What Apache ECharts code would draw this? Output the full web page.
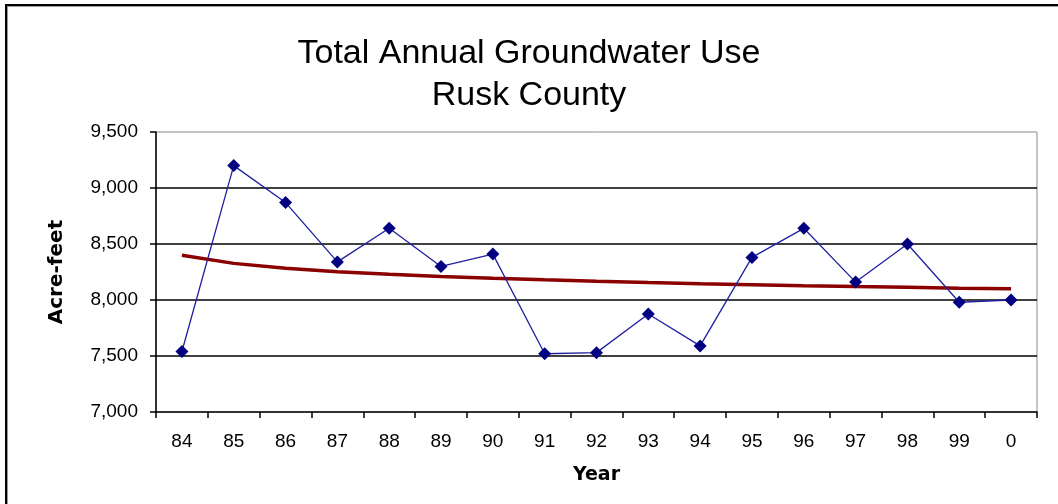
<!DOCTYPE html>
<html>
<head>
<meta charset="utf-8">
<script src="https://cdn.jsdelivr.net/npm/echarts@6/dist/echarts.min.js"></script>
<style>
  html, body { margin: 0; padding: 0; background: #fff; overflow: hidden; }
  #chart { position: absolute; left: 0; top: 0; width: 1058px; height: 504px; }
  #frame {
    position: absolute; left: 5px; top: 4px; width: 1200px; height: 700px;
    border-top: 2px solid #000; border-left: 2px solid #000;
    box-shadow: inset 1px 1px 0 #9a9a9a; pointer-events: none;
  }
</style>
</head>
<body>
<div id="chart"></div>
<div id="frame"></div>
<script>
// Years shown on the category axis (two-digit, 2000 shown as "0")
const years = ['84', '85', '86', '87', '88', '89', '90', '91', '92', '93', '94', '95', '96', '97', '98', '99', '0'];

// Total annual groundwater use, acre-feet
const groundwaterUse = [7540, 9200, 8870, 8340, 8640, 8300, 8410, 7520, 7530, 7875, 7590, 8380, 8640, 8160, 8500, 7980, 8000];

// Logarithmic trend line values, acre-feet
const trendValues = [8400, 8327, 8284, 8253, 8229, 8210, 8194, 8180, 8167, 8156, 8146, 8137, 8128, 8120, 8113, 8106, 8100];

const chart = echarts.init(document.getElementById('chart'), null, { renderer: 'canvas' });

const fmt = v => String(v).replace(/\B(?=(\d{3})+(?!\d))/g, ',');

chart.setOption({
  animation: false,
  backgroundColor: '#fff',
  title: {
    text: 'Total Annual Groundwater Use\nRusk County',
    left: 'center',
    top: 28,
    textStyle: {
      fontFamily: 'Liberation Sans, Arial, sans-serif',
      fontSize: 34,
      fontWeight: 'normal',
      color: '#000',
      lineHeight: 42
    }
  },
  grid: {
    left: 156, top: 132, width: 881, height: 280,
    show: true, borderColor: '#8c8c8c', borderWidth: 1, backgroundColor: '#fff'
  },
  xAxis: {
    type: 'category',
    data: years,
    boundaryGap: true,
    name: 'Year',
    nameLocation: 'middle',
    nameGap: 54,
    nameTextStyle: { fontFamily: 'DejaVu Sans, sans-serif', fontWeight: 'bold', fontSize: 19, color: '#000' },
    axisLine: { show: true, lineStyle: { color: '#000', width: 1.5 } },
    axisTick: { show: true, length: 6, lineStyle: { color: '#000', width: 1.5 } },
    axisLabel: { margin: 20, fontFamily: 'Liberation Sans, Arial, sans-serif', fontSize: 19, color: '#000' },
    splitLine: { show: false }
  },
  yAxis: {
    type: 'value',
    min: 7000,
    max: 9500,
    interval: 500,
    name: 'Acre-feet',
    nameLocation: 'middle',
    nameGap: 89,
    nameTextStyle: { fontFamily: 'DejaVu Sans, sans-serif', fontWeight: 'bold', fontSize: 20, color: '#000' },
    axisLine: { show: true, lineStyle: { color: '#000', width: 1.5 } },
    axisTick: { show: true, length: 6, lineStyle: { color: '#000', width: 1.5 } },
    axisLabel: { margin: 18, fontFamily: 'Liberation Sans, Arial, sans-serif', fontSize: 19, color: '#000', formatter: fmt },
    splitLine: { show: true, showMinLine: false, showMaxLine: false, lineStyle: { color: '#000', width: 1.5 } }
  },
  series: [
    {
      name: 'Trend',
      type: 'line',
      data: trendValues,
      symbol: 'none',
      smooth: false,
      lineStyle: { color: '#8b0000', width: 3.5 },
      z: 2
    },
    {
      name: 'Groundwater Use',
      type: 'line',
      data: groundwaterUse,
      symbol: 'diamond',
      symbolSize: 13,
      itemStyle: { color: '#000080' },
      lineStyle: { color: '#2020a0', width: 1.3 },
      z: 3
    }
  ]
});
</script>
</body>
</html>
